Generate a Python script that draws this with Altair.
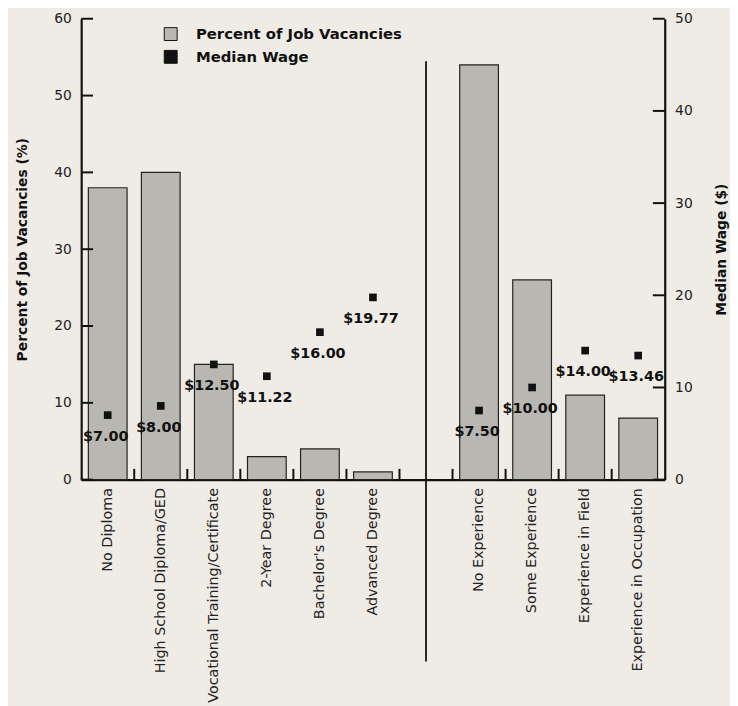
import altair as alt
import pandas as pd

# ---- data ----
categories = ["No Diploma", "High School Diploma/GED", "Vocational Training/Certificate",
              "2-Year Degree", "Bachelor's Degree", "Advanced Degree",
              "No Experience", "Some Experience", "Experience in Field", "Experience in Occupation"]
vacancy_pct = [38, 40, 15, 3, 4, 1, 54, 26, 11, 8]
median_wage = [7.00, 8.00, 12.50, 11.22, 16.00, 19.77, 7.50, 10.00, 14.00, 13.46]
wage_labels = ["$7.00", "$8.00", "$12.50", "$11.22", "$16.00", "$19.77",
               "$7.50", "$10.00", "$14.00", "$13.46"]
spacer = " "
x_domain = categories[:6] + [spacer] + categories[6:]
left_ticks = [0, 10, 20, 30, 40, 50, 60]
right_ticks = [0, 10, 20, 30, 40, 50]
series_names = ["Percent of Job Vacancies", "Median Wage"]

W, H = 590, 466
FONT = "DejaVu Sans"
BG = "#efece6"
BAR_FILL = "#b9b7b1"

df = pd.DataFrame({"cat": categories, "pct": vacancy_pct, "wage": median_wage,
                   "label": wage_labels})
df["s_bar"] = series_names[0]
df["s_wage"] = series_names[1]

xs = alt.Scale(domain=x_domain, paddingInner=0, paddingOuter=0)
ys_left = alt.Scale(domain=[0, 60], nice=False)
ys_right = alt.Scale(domain=[0, 50], nice=False)
color = alt.Scale(domain=series_names, range=[BAR_FILL, "#111111"])

x_axis = alt.Axis(labelAngle=-90, ticks=False, domain=True, title=None, labelPadding=8,
                  labelFontSize=14.5, labelLimit=400, labelFont=FONT, labelColor="#222")

left_axis = alt.Axis(values=left_ticks, ticks=False, grid=False, labelPadding=10,
                     title="Percent of Job Vacancies (%)", titleFontWeight="bold",
                     titleFontSize=14, titleFont=FONT, titlePadding=24,
                     labelFontSize=14, labelFont=FONT, labelColor="#222")

right_axis = alt.Axis(orient="right", values=right_ticks, ticks=False, grid=False,
                      labelPadding=10, title="Median Wage ($)", titleAngle=270,
                      titleX=57, titleY=H / 2, titleAlign="center", titleBaseline="middle",
                      titleFontWeight="bold", titleFontSize=14, titleFont=FONT,
                      labelFontSize=14, labelFont=FONT, labelColor="#222")

legend = alt.Legend(title=None, orient="none", legendX=83, legendY=8, symbolType="square",
                    symbolSize=170, symbolStrokeColor="#111", symbolStrokeWidth=1,
                    labelFontSize=15, labelFontWeight="bold", labelFont=FONT,
                    labelColor="#111", labelOffset=18, rowPadding=4, labelLimit=400)

bars = alt.Chart(df).mark_bar(width={"band": 0.73}, stroke="#222", strokeWidth=1.2).encode(
    x=alt.X("cat:N", scale=xs, axis=x_axis, sort=x_domain),
    y=alt.Y("pct:Q", scale=ys_left, axis=left_axis),
    color=alt.Color("s_bar:N", scale=color, legend=legend),
)

lt_df = pd.DataFrame({"v": left_ticks})
left_tick_marks = alt.Chart(lt_df).mark_rule(color="#111", strokeWidth=2).encode(
    y=alt.Y("v:Q", scale=ys_left, axis=left_axis), x=alt.value(0), x2=alt.value(12))

xt_df = pd.DataFrame({"cat": x_domain[1:]})
x_tick_marks = alt.Chart(xt_df).mark_rule(color="#111", strokeWidth=2).encode(
    x=alt.X("cat:N", scale=xs, bandPosition=0, sort=x_domain, axis=x_axis),
    y=alt.Y(datum=0, scale=ys_left, axis=left_axis), y2=alt.Y2(datum=1.4))

div_df = pd.DataFrame({"cat": [spacer]})
divider = alt.Chart(div_df).mark_rule(color="#111", strokeWidth=1.8).encode(
    x=alt.X("cat:N", scale=xs, sort=x_domain, axis=x_axis),
    y=alt.value(43), y2=alt.value(650))

left_layer = alt.layer(bars, left_tick_marks, x_tick_marks, divider)

squares = alt.Chart(df).mark_square(size=60, opacity=1).encode(
    x=alt.X("cat:N", scale=xs, sort=x_domain, axis=x_axis),
    y=alt.Y("wage:Q", scale=ys_right, axis=right_axis),
    color=alt.Color("s_wage:N", scale=color, legend=legend),
)

wage_text = alt.Chart(df).mark_text(dy=22, dx=-2, fontSize=14.5, fontWeight="bold",
                                    font=FONT, color="#111").encode(
    x=alt.X("cat:N", scale=xs, sort=x_domain, axis=x_axis),
    y=alt.Y("wage:Q", scale=ys_right, axis=right_axis),
    text="label:N")

rt_df = pd.DataFrame({"v": right_ticks})
right_tick_marks = alt.Chart(rt_df).mark_rule(color="#111", strokeWidth=2).encode(
    y=alt.Y("v:Q", scale=ys_right, axis=right_axis), x=alt.value(W - 12), x2=alt.value(W))

right_layer = alt.layer(squares, wage_text, right_tick_marks)

chart = alt.layer(left_layer, right_layer).resolve_scale(y="independent").properties(
    width=W, height=H, background=BG,
    autosize=alt.AutoSizeParams(type="none"),
    padding={"left": 74, "top": 7, "right": 66, "bottom": 225},
).configure_view(stroke=None).configure_axis(
    domainColor="#111", domainWidth=2.2, labelFont=FONT, titleColor="#111"
)

chart.save("out.html", embed_options={"renderer": "svg", "actions": False})
